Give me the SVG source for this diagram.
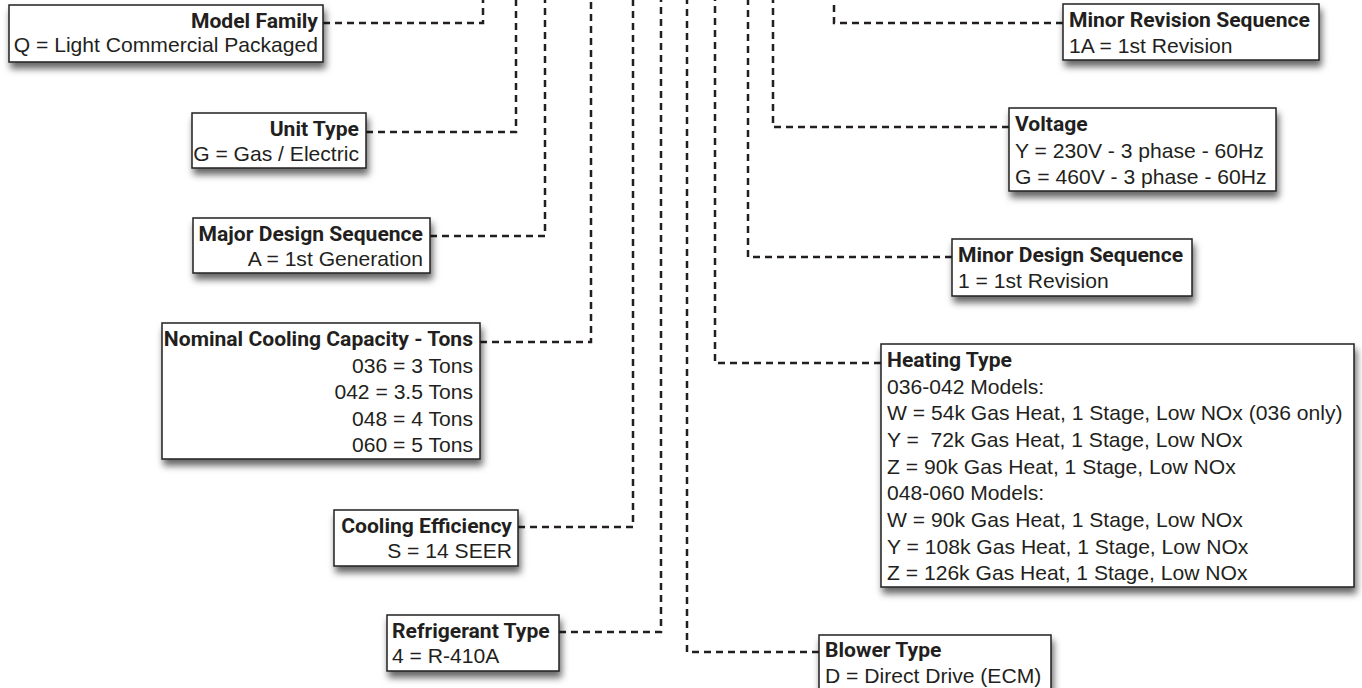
<svg xmlns="http://www.w3.org/2000/svg" width="1362" height="688" viewBox="0 0 1362 688">
<defs>
<filter id="sh" x="-10%" y="-20%" width="120%" height="150%">
<feDropShadow dx="2" dy="6" stdDeviation="3.5" flood-color="#000" flood-opacity="0.6"/>
</filter>
<style>
.box{fill:#fff;stroke:#231f20;stroke-width:1.5;filter:url(#sh)}
.t{font-family:Roboto,"Liberation Sans",sans-serif;font-weight:bold;font-size:21.1px;fill:#231f20}
.b{font-family:"Liberation Sans",Arial,sans-serif;font-size:21.1px;fill:#231f20}
.e{text-anchor:end}
.c{fill:none;stroke:#231f20;stroke-width:2.5;stroke-dasharray:7 5}
</style>
</defs>
<rect width="1362" height="688" fill="#fff"/>
<g id="connectors">
<path class="c" d="M323,23 H483 V0"/>
<path class="c" d="M366,132 H516 V0"/>
<path class="c" d="M430,236 H545 V0"/>
<path class="c" d="M480,342 H591 V0"/>
<path class="c" d="M518,527 H633 V0"/>
<path class="c" d="M559,632 H661 V0"/>
<path class="c" d="M819,652 H687 V0"/>
<path class="c" d="M881,363 H715 V0"/>
<path class="c" d="M952,257 H748 V0"/>
<path class="c" d="M1009,127 H773 V0"/>
<path class="c" d="M1063,23 H834 V0"/>
</g>
<g id="model-family">
<rect class="box" x="9" y="5" width="314" height="57"/>
<text class="t e" x="318" y="28">Model Family</text>
<text class="b e" x="318" y="52">Q = Light Commercial Packaged</text>
</g>
<g id="unit-type">
<rect class="box" x="192" y="113" width="174" height="55"/>
<text class="t e" x="359" y="136">Unit Type</text>
<text class="b e" x="359" y="161">G = Gas / Electric</text>
</g>
<g id="major-design">
<rect class="box" x="193" y="218" width="237" height="55"/>
<text class="t e" x="423" y="241">Major Design Sequence</text>
<text class="b e" x="423" y="266">A = 1st Generation</text>
</g>
<g id="nominal-capacity">
<rect class="box" x="162" y="323" width="318" height="136"/>
<text class="t e" x="473" y="346">Nominal Cooling Capacity - Tons</text>
<text class="b e" x="473" y="372.5">036 = 3 Tons</text>
<text class="b e" x="473" y="399">042 = 3.5 Tons</text>
<text class="b e" x="473" y="425.5">048 = 4 Tons</text>
<text class="b e" x="473" y="452">060 = 5 Tons</text>
</g>
<g id="cooling-efficiency">
<rect class="box" x="334" y="510" width="184" height="56"/>
<text class="t e" x="512" y="533">Cooling Efficiency</text>
<text class="b e" x="512" y="558">S = 14 SEER</text>
</g>
<g id="refrigerant-type">
<rect class="box" x="387" y="615" width="172" height="56"/>
<text class="t" x="392" y="638">Refrigerant Type</text>
<text class="b" x="392" y="663">4 = R-410A</text>
</g>
<g id="minor-revision">
<rect class="box" x="1063" y="4" width="256" height="56"/>
<text class="t" x="1069" y="27">Minor Revision Sequence</text>
<text class="b" x="1069" y="53">1A = 1st Revision</text>
</g>
<g id="voltage">
<rect class="box" x="1009" y="108" width="267" height="83"/>
<text class="t" x="1015" y="131">Voltage</text>
<text class="b" x="1015" y="157.5">Y = 230V - 3 phase - 60Hz</text>
<text class="b" x="1015" y="184">G = 460V - 3 phase - 60Hz</text>
</g>
<g id="minor-design">
<rect class="box" x="952" y="239" width="240" height="57"/>
<text class="t" x="958" y="262">Minor Design Sequence</text>
<text class="b" x="958" y="288">1 = 1st Revision</text>
</g>
<g id="heating-type">
<rect class="box" x="881" y="344" width="473" height="243"/>
<text class="t" x="887" y="367">Heating Type</text>
<text class="b" x="887" y="393.7">036-042 Models:</text>
<text class="b" x="887" y="420.3">W = 54k Gas Heat, 1 Stage, Low NOx (036 only)</text>
<text class="b" x="887" y="447" xml:space="preserve">Y =  72k Gas Heat, 1 Stage, Low NOx</text>
<text class="b" x="887" y="473.7">Z = 90k Gas Heat, 1 Stage, Low NOx</text>
<text class="b" x="887" y="500.3">048-060 Models:</text>
<text class="b" x="887" y="527">W = 90k Gas Heat, 1 Stage, Low NOx</text>
<text class="b" x="887" y="553.7">Y = 108k Gas Heat, 1 Stage, Low NOx</text>
<text class="b" x="887" y="580">Z = 126k Gas Heat, 1 Stage, Low NOx</text>
</g>
<g id="blower-type">
<rect class="box" x="819" y="635" width="232" height="62"/>
<text class="t" x="825" y="657">Blower Type</text>
<text class="b" x="825" y="683">D = Direct Drive (ECM)</text>
</g>
</svg>
